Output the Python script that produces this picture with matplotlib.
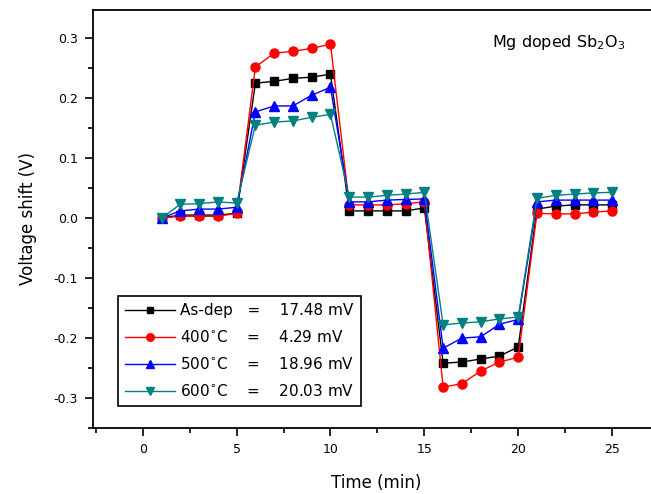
import matplotlib
matplotlib.use('Agg')
import matplotlib.pyplot as plt
from matplotlib.ticker import MultipleLocator

plt.rcParams['font.family'] = ['DejaVu Sans']
plt.rcParams['mathtext.fontset'] = 'dejavusans'

# time axis (min) and voltage shift (V) for each annealing condition
time = list(range(1, 26))
as_dep = [0.000, 0.005, 0.005, 0.005, 0.008,
          0.225, 0.228, 0.233, 0.235, 0.240,
          0.012, 0.012, 0.012, 0.012, 0.017,
          -0.242, -0.240, -0.235, -0.230, -0.215,
          0.015, 0.020, 0.022, 0.022, 0.022]
t400 = [0.000, 0.003, 0.003, 0.003, 0.008,
        0.252, 0.275, 0.278, 0.283, 0.290,
        0.022, 0.022, 0.022, 0.024, 0.027,
        -0.282, -0.276, -0.255, -0.240, -0.232,
        0.008, 0.007, 0.007, 0.010, 0.012]
t500 = [0.000, 0.012, 0.015, 0.015, 0.018,
        0.177, 0.187, 0.187, 0.205, 0.218,
        0.027, 0.027, 0.030, 0.031, 0.032,
        -0.217, -0.200, -0.198, -0.177, -0.169,
        0.027, 0.030, 0.030, 0.030, 0.030]
t600 = [0.000, 0.023, 0.024, 0.027, 0.025,
        0.155, 0.160, 0.162, 0.168, 0.173,
        0.035, 0.035, 0.038, 0.040, 0.043,
        -0.178, -0.175, -0.173, -0.168, -0.165,
        0.033, 0.038, 0.040, 0.042, 0.043]
labels = ['As-dep   =    17.48 mV',
          '400$^{\\circ}$C    =    4.29 mV',
          '500$^{\\circ}$C    =    18.96 mV',
          '600$^{\\circ}$C    =    20.03 mV']

series = [as_dep, t400, t500, t600]
colors = ['black', 'red', 'blue', '#008080']
markers = ['s', 'o', '^', 'v']
msizes = [5.5, 6.5, 7, 7]

fig = plt.figure(figsize=(6.51, 4.94), dpi=100)
ax = fig.add_axes([0.1429, 0.1336, 0.8694, 0.8462])

for ys, c, m, ms, lab in zip(series, colors, markers, msizes, labels):
    ax.plot(time, ys, color=c, marker=m, markersize=ms, linewidth=1.0,
            label=lab)

ax.set_xlim(-2.65, 27.5)
ax.set_ylim(-0.35, 0.347)
ax.xaxis.set_major_locator(MultipleLocator(5))
ax.xaxis.set_minor_locator(MultipleLocator(2.5))
ax.yaxis.set_major_locator(MultipleLocator(0.1))
ax.yaxis.set_minor_locator(MultipleLocator(0.05))
ax.yaxis.set_major_formatter(plt.FuncFormatter(lambda v, p: '%.1f' % v))
ax.tick_params(which='major', direction='out', length=6, width=1.2,
               labelsize=9, pad=5)
ax.tick_params(which='minor', direction='out', length=3.5, width=1.2)
for s in ax.spines.values():
    s.set_linewidth(1.3)

ax.set_xlabel('Time (min)', fontsize=12, labelpad=13)
ax.set_ylabel('Voltage shift (V)', fontsize=12, labelpad=12)

ax.text(0.705, 0.945, 'Mg doped Sb$_2$O$_3$', transform=ax.transAxes,
        fontsize=11.5, va='top', ha='left')

leg = ax.legend(loc='lower left', bbox_to_anchor=(0.03, 0.035),
                fontsize=11, handlelength=3.3, handletextpad=0.3,
                labelspacing=0.72, borderpad=0.45, fancybox=False,
                framealpha=1, edgecolor='black', markerscale=0.85)
leg.get_frame().set_linewidth(1.2)

fig.savefig('out.png', dpi=100)
